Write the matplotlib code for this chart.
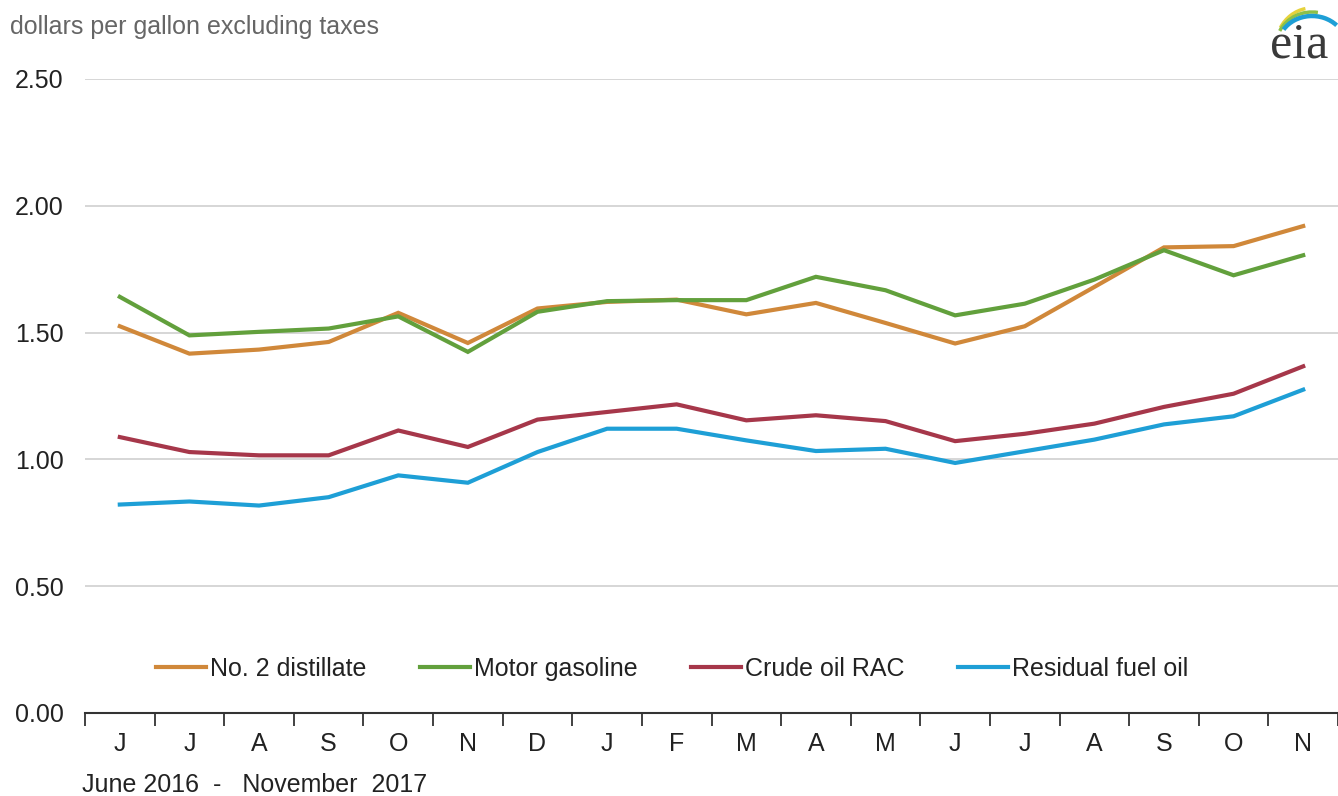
import matplotlib.pyplot as plt
from matplotlib.patches import Arc

plt.rcParams['font.family'] = ['Liberation Sans', 'DejaVu Sans']

months = ['J', 'J', 'A', 'S', 'O', 'N', 'D', 'J', 'F', 'M', 'A', 'M', 'J', 'J', 'A', 'S', 'O', 'N']

distillate = [1.525, 1.417, 1.433, 1.463, 1.578, 1.459, 1.595, 1.621, 1.630,
              1.572, 1.617, 1.538, 1.457, 1.525, 1.680, 1.836, 1.841, 1.920]
gasoline = [1.641, 1.489, 1.503, 1.516, 1.564, 1.424, 1.582, 1.624, 1.628,
            1.628, 1.720, 1.667, 1.568, 1.614, 1.709, 1.825, 1.726, 1.805]
crude = [1.088, 1.029, 1.016, 1.016, 1.114, 1.049, 1.157, 1.187, 1.217,
         1.154, 1.174, 1.151, 1.072, 1.101, 1.141, 1.207, 1.259, 1.367]
residual = [0.822, 0.834, 0.818, 0.851, 0.937, 0.908, 1.029, 1.121, 1.121,
            1.075, 1.033, 1.042, 0.986, 1.032, 1.078, 1.138, 1.170, 1.275]

series = [
    ('No. 2 distillate', distillate, '#D0883A'),
    ('Motor gasoline', gasoline, '#62A03C'),
    ('Crude oil RAC', crude, '#A6374A'),
    ('Residual fuel oil', residual, '#1E9FD6'),
]

yticks = [0.0, 0.5, 1.0, 1.5, 2.0, 2.5]

W, H = 1338, 796
fig = plt.figure(figsize=(W / 100, H / 100), dpi=100)
ax = fig.add_axes([85 / W, 1 - 713 / H, 1 - 85 / W, (713 - 79) / H])

x = list(range(len(months)))
for name, vals, col in series:
    ax.plot(x, vals, color=col, lw=3, label=name, solid_joinstyle='miter')

ax.set_xlim(-0.5, len(months) - 0.5)
ax.set_ylim(0, 2.5)

# horizontal grid, no line at zero (the axis takes its place)
for yv in yticks[1:]:
    ax.axhline(yv, color='#CFCFCF', lw=1.2, zorder=0)

ax.set_yticks(yticks)
ax.set_yticklabels([f'{v:.2f}' for v in yticks], fontsize=18, color='#222222')
ax.tick_params(axis='y', length=0, pad=0)
for lab in ax.get_yticklabels():
    lab.set_horizontalalignment('left')
    lab.set_x(-70 / 1253)

ax.set_xticks(x)
ax.set_xticklabels(months, fontsize=18, color='#222222')
ax.set_xticks([i - 0.5 for i in range(len(months) + 1)], minor=True)
ax.tick_params(axis='x', which='major', length=0, pad=14)
ax.tick_params(axis='x', which='minor', length=9, width=1.3, direction='out', color='#333333')

for s in ['top', 'right', 'left']:
    ax.spines[s].set_visible(False)
ax.spines['bottom'].set_color('#333333')
ax.spines['bottom'].set_linewidth(1.5)

ax.legend(loc='center', bbox_to_anchor=(0.4685, 0.07), ncol=4, frameon=False,
          fontsize=18, handlelength=2.0, handletextpad=0.15, columnspacing=2.15,
          labelcolor='#222222')

fig.text(10 / W, 1 - 27 / H, 'dollars per gallon excluding taxes',
         fontsize=18, color='#666666', va='center', ha='left')
fig.text(82 / W, 1 - 785 / H, 'June 2016  -   November  2017',
         fontsize=18, color='#222222', va='center', ha='left')

# eia logo: wordmark plus three arcs, drawn in pixel coordinates
lax = fig.add_axes([0, 0, 1, 1], zorder=5)
lax.set_xlim(0, W)
lax.set_ylim(H, 0)
lax.axis('off')
lax.text(1299, 58, 'eia', fontsize=36, family='Liberation Serif',
         color='#3A3A3A', ha='center', va='baseline')
for (rx, ry, c, t1, t2, lw) in [(36, 38, '#E6D23C', 100, 150, 2.5),
                                (36, 34, '#8CC04A', 80, 155, 2.5),
                                (34, 30, '#1E9FD6', 40, 150, 3.2)]:
    lax.add_patch(Arc((1312, 46), 2 * rx, 2 * ry, theta1=-t2, theta2=-t1,
                      color=c, lw=lw))

fig.savefig('out.png', dpi=100)
